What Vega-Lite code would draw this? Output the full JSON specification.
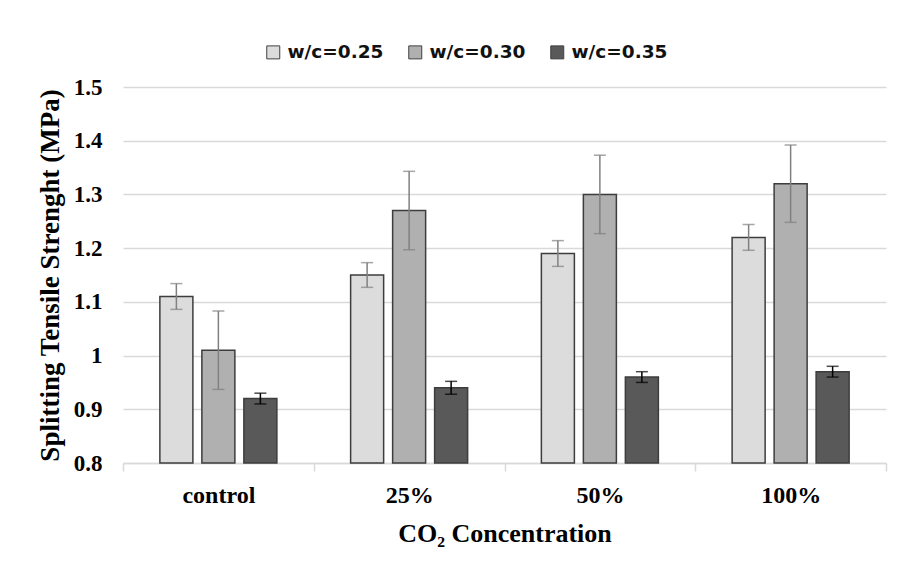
{
  "$schema": "https://vega.github.io/schema/vega-lite/v6.json",
  "width": 763,
  "height": 376,
  "autosize": {"type": "none"},
  "padding": {"left": 123, "top": 87, "right": 15, "bottom": 114},
  "background": "#ffffff",
  "config": {
    "view": {"stroke": null},
    "axis": {"labelFont": "Liberation Serif", "titleFont": "Liberation Serif", "labelFontWeight": "bold", "titleFontWeight": "bold", "labelColor": "#000000", "titleColor": "#000000"}
  },
  "data": {
    "values": [
      {"conc": "control", "wc": "w/c=0.25", "value": 1.11, "lo": 1.086, "hi": 1.134},
      {"conc": "control", "wc": "w/c=0.30", "value": 1.01, "lo": 0.937, "hi": 1.083},
      {"conc": "control", "wc": "w/c=0.35", "value": 0.92, "lo": 0.91, "hi": 0.93},
      {"conc": "25%", "wc": "w/c=0.25", "value": 1.15, "lo": 1.127, "hi": 1.173},
      {"conc": "25%", "wc": "w/c=0.30", "value": 1.27, "lo": 1.197, "hi": 1.343},
      {"conc": "25%", "wc": "w/c=0.35", "value": 0.94, "lo": 0.928, "hi": 0.952},
      {"conc": "50%", "wc": "w/c=0.25", "value": 1.19, "lo": 1.166, "hi": 1.214},
      {"conc": "50%", "wc": "w/c=0.30", "value": 1.30, "lo": 1.227, "hi": 1.373},
      {"conc": "50%", "wc": "w/c=0.35", "value": 0.96, "lo": 0.95, "hi": 0.97},
      {"conc": "100%", "wc": "w/c=0.25", "value": 1.22, "lo": 1.196, "hi": 1.244},
      {"conc": "100%", "wc": "w/c=0.30", "value": 1.32, "lo": 1.248, "hi": 1.392},
      {"conc": "100%", "wc": "w/c=0.35", "value": 0.97, "lo": 0.96, "hi": 0.98}
    ]
  },
  "encoding": {
    "x": {
      "field": "conc", "type": "nominal", "sort": ["control", "25%", "50%", "100%"],
      "scale": {"paddingInner": 0, "paddingOuter": 0},
      "axis": {
        "title": "CO₂ Concentration", "titleFontSize": 26, "titlePadding": 13,
        "labelAngle": 0, "labelFontSize": 24, "labelPadding": 12,
        "tickBand": "extent", "tickSize": 8, "tickColor": "#d9d9d9", "tickWidth": 1.5,
        "domainColor": "#d9d9d9", "domainWidth": 1.5, "grid": false
      }
    },
    "xOffset": {
      "field": "wc", "type": "nominal",
      "scale": {"paddingInner": 0.214, "paddingOuter": 0.878}
    }
  },
  "layer": [
    {
      "mark": {"type": "bar", "stroke": "#3d3d3d", "strokeWidth": 1.5},
      "encoding": {
        "y": {
          "field": "value", "type": "quantitative",
          "scale": {"domain": [0.8, 1.5], "zero": false, "nice": false},
          "axis": {
            "title": "Splitting Tensile Strenght (MPa)", "titleFontSize": 27, "titlePadding": 9,
            "values": [0.8, 0.9, 1.0, 1.1, 1.2, 1.3, 1.4, 1.5], "format": "~g",
            "labelFontSize": 23, "labelPadding": 21, "ticks": false, "domain": false,
            "grid": true, "gridColor": "#d9d9d9", "gridWidth": 1.5
          }
        },
        "y2": {"datum": 0.8},
        "fill": {
          "field": "wc", "type": "nominal",
          "scale": {"range": ["#dcdcdc", "#b0b0b0", "#595959"]},
          "legend": {
            "title": null, "orient": "none", "direction": "horizontal",
            "legendX": 141, "legendY": -44, "padding": 0,
            "symbolType": "square", "symbolSize": 169, "symbolStrokeColor": "#404040", "symbolStrokeWidth": 1,
            "labelFont": "DejaVu Sans", "labelFontWeight": "bold", "labelFontSize": 18.5, "labelColor": "#111111",
            "labelOffset": 5, "columnPadding": 22
          }
        }
      }
    },
    {
      "mark": {"type": "rule", "strokeWidth": 1.5},
      "encoding": {
        "y": {"field": "lo", "type": "quantitative"},
        "y2": {"field": "hi"},
        "stroke": {"field": "wc", "type": "nominal", "scale": {"range": ["#808080", "#808080", "#000000"]}, "legend": null}
      }
    },
    {
      "mark": {"type": "tick", "orient": "horizontal", "size": 12, "thickness": 1.5},
      "encoding": {
        "y": {"field": "lo", "type": "quantitative"},
        "color": {"field": "wc", "type": "nominal", "scale": {"range": ["#808080", "#808080", "#000000"]}, "legend": null}
      }
    },
    {
      "mark": {"type": "tick", "orient": "horizontal", "size": 12, "thickness": 1.5},
      "encoding": {
        "y": {"field": "hi", "type": "quantitative"},
        "color": {"field": "wc", "type": "nominal", "scale": {"range": ["#808080", "#808080", "#000000"]}, "legend": null}
      }
    }
  ],
  "resolve": {"scale": {"color": "independent"}}
}
